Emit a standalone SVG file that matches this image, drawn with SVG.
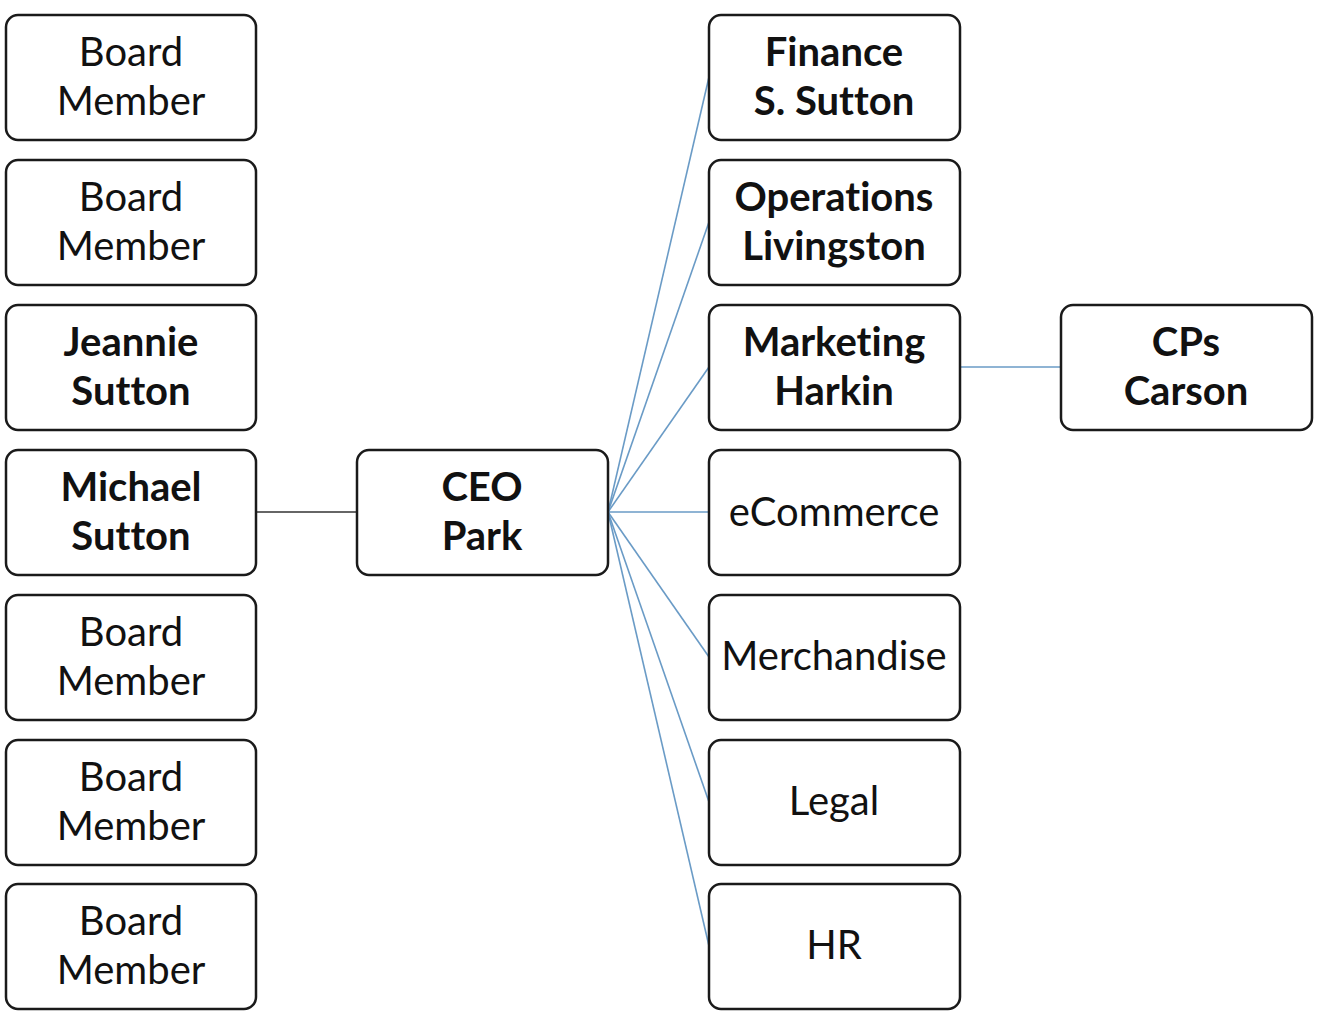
<svg xmlns="http://www.w3.org/2000/svg" width="1322" height="1022" viewBox="0 0 1322 1022">
<style>
.box{fill:#fff;stroke:#1a1a1a;stroke-width:2.5}
.t{font-family:Lato,"Open Sans",sans-serif;font-size:40px;fill:#111;text-anchor:middle;font-variant-ligatures:none;font-feature-settings:"liga" 0,"dlig" 0}
.b{font-weight:bold}
.c{fill:none;stroke:#6a9bc6;stroke-width:1.6}
.d{fill:none;stroke:#333;stroke-width:1.6}
</style>
<rect width="1322" height="1022" fill="#fff"/>
<g id="connectors">
<line class="d" x1="256" y1="512" x2="357" y2="512"/>
<line class="c" x1="608" y1="512" x2="709" y2="77"/>
<line class="c" x1="608" y1="512" x2="709" y2="222"/>
<line class="c" x1="608" y1="512" x2="709" y2="367"/>
<line class="c" x1="608" y1="512" x2="709" y2="512"/>
<line class="c" x1="608" y1="512" x2="709" y2="657"/>
<line class="c" x1="608" y1="512" x2="709" y2="802"/>
<line class="c" x1="608" y1="512" x2="709" y2="946"/>
<line class="c" x1="960" y1="367" x2="1061" y2="367"/>
</g>
<g id="bm1"><rect class="box" x="6" y="15" width="250" height="125" rx="12"/><text class="t" x="131" y="66">Board</text><text class="t" x="131" y="115">Member</text></g>
<g id="bm2"><rect class="box" x="6" y="160" width="250" height="125" rx="12"/><text class="t" x="131" y="211">Board</text><text class="t" x="131" y="260">Member</text></g>
<g id="jeannie"><rect class="box" x="6" y="305" width="250" height="125" rx="12"/><text class="t b" x="131" y="356">Jeannie</text><text class="t b" x="131" y="405">Sutton</text></g>
<g id="michael"><rect class="box" x="6" y="450" width="250" height="125" rx="12"/><text class="t b" x="131" y="501">Michael</text><text class="t b" x="131" y="550">Sutton</text></g>
<g id="bm3"><rect class="box" x="6" y="595" width="250" height="125" rx="12"/><text class="t" x="131" y="646">Board</text><text class="t" x="131" y="695">Member</text></g>
<g id="bm4"><rect class="box" x="6" y="740" width="250" height="125" rx="12"/><text class="t" x="131" y="791">Board</text><text class="t" x="131" y="840">Member</text></g>
<g id="bm5"><rect class="box" x="6" y="884" width="250" height="125" rx="12"/><text class="t" x="131" y="935">Board</text><text class="t" x="131" y="984">Member</text></g>
<g id="ceo"><rect class="box" x="357" y="450" width="251" height="125" rx="12"/><text class="t b" x="482" y="501">CEO</text><text class="t b" x="482" y="550">Park</text></g>
<g id="finance"><rect class="box" x="709" y="15" width="251" height="125" rx="12"/><text class="t b" x="834" y="66">Finance</text><text class="t b" x="834" y="115">S. Sutton</text></g>
<g id="operations"><rect class="box" x="709" y="160" width="251" height="125" rx="12"/><text class="t b" x="834" y="211">Operations</text><text class="t b" x="834" y="260">Livingston</text></g>
<g id="marketing"><rect class="box" x="709" y="305" width="251" height="125" rx="12"/><text class="t b" x="834" y="356">Marketing</text><text class="t b" x="834" y="405">Harkin</text></g>
<g id="ecommerce"><rect class="box" x="709" y="450" width="251" height="125" rx="12"/><text class="t" x="834" y="526">eCommerce</text></g>
<g id="merchandise"><rect class="box" x="709" y="595" width="251" height="125" rx="12"/><text class="t" x="834" y="670">Merchandise</text></g>
<g id="legal"><rect class="box" x="709" y="740" width="251" height="125" rx="12"/><text class="t" x="834" y="815">Legal</text></g>
<g id="hr"><rect class="box" x="709" y="884" width="251" height="125" rx="12"/><text class="t" x="834" y="959">HR</text></g>
<g id="cps"><rect class="box" x="1061" y="305" width="251" height="125" rx="12"/><text class="t b" x="1186" y="356">CPs</text><text class="t b" x="1186" y="405">Carson</text></g>
</svg>
